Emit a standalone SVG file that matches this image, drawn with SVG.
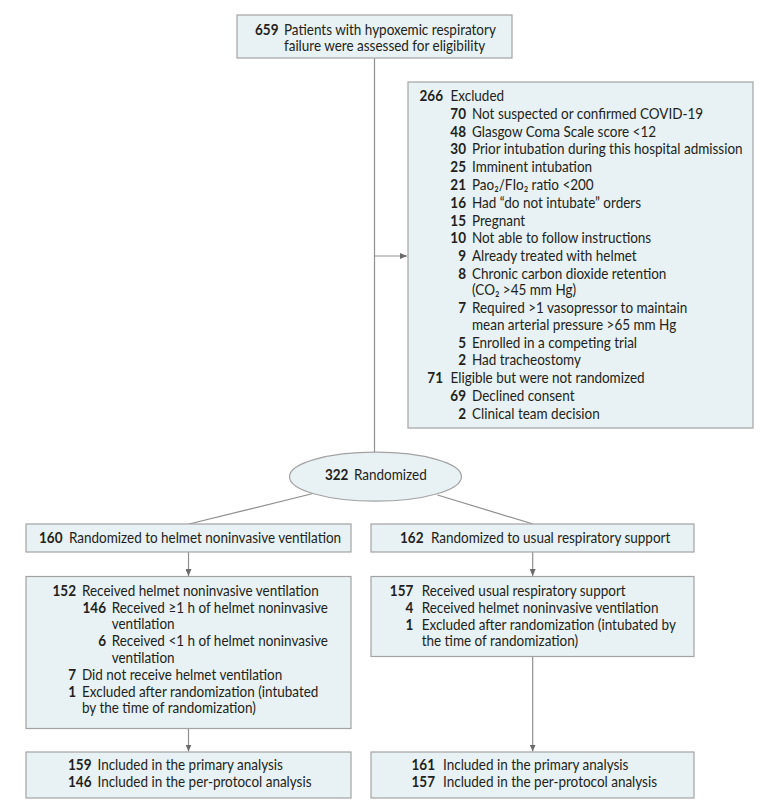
<svg xmlns="http://www.w3.org/2000/svg" width="780" height="811" viewBox="0 0 780 811">
<style>
.box{fill:#e8f1f3;stroke:#a3a3a3;stroke-width:1.2}
.ln{stroke:#8f8f8f;stroke-width:1.2;fill:none}
text{font-family:Lato,"Liberation Sans",sans-serif;font-size:15px;fill:#231f20}
.b{font-weight:bold}
.e{text-anchor:end}
</style>
<defs>
<marker id="ah" markerWidth="7" markerHeight="6" refX="7" refY="3" orient="auto" markerUnits="userSpaceOnUse">
<path d="M0,0 L7,3 L0,6 z" fill="#6b6b6b"/>
</marker>
</defs>
<rect width="780" height="811" fill="#ffffff"/>
<g id="connectors">
<line class="ln" x1="374.5" y1="58" x2="374.5" y2="452.5"/>
<line class="ln" x1="374.5" y1="256" x2="407" y2="256" marker-end="url(#ah)"/>
<line class="ln" x1="315" y1="493" x2="189" y2="524"/>
<line class="ln" x1="437.5" y1="495" x2="533" y2="524"/>
<line class="ln" x1="188.5" y1="552" x2="188.5" y2="576" marker-end="url(#ah)"/>
<line class="ln" x1="532.7" y1="552" x2="532.7" y2="576" marker-end="url(#ah)"/>
<line class="ln" x1="188.5" y1="728.5" x2="188.5" y2="751.5" marker-end="url(#ah)"/>
<line class="ln" x1="532.7" y1="656.5" x2="532.7" y2="751.5" marker-end="url(#ah)"/>
</g>
<g id="assessed">
<rect class="box" x="237" y="15" width="275" height="43"/>
<g transform="scale(0.9,1)">
<text x="283.33" y="35" class="b">659</text>
<text x="315.56" y="35">Patients with hypoxemic respiratory</text>
<text x="315.56" y="51.5">failure were assessed for eligibility</text>
</g>
</g>
<g id="excluded">
<rect class="box" x="408" y="82" width="345" height="346"/>
<g transform="scale(0.9,1)">
<text x="492.22" y="101" class="b e">266</text><text x="500.56" y="101">Excluded</text>
<text x="517.78" y="118.8" class="b e">70</text><text x="524.44" y="118.8">Not suspected or confirmed COVID-19</text>
<text x="517.78" y="136.6" class="b e">48</text><text x="524.44" y="136.6">Glasgow Coma Scale score &lt;12</text>
<text x="517.78" y="154.4" class="b e">30</text><text x="524.44" y="154.4">Prior intubation during this hospital admission</text>
<text x="517.78" y="172.2" class="b e">25</text><text x="524.44" y="172.2">Imminent intubation</text>
<text x="517.78" y="190" class="b e">21</text><text x="524.44" y="190">Pao₂/FIo₂ ratio &lt;200</text>
<text x="517.78" y="207.8" class="b e">16</text><text x="524.44" y="207.8">Had “do not intubate” orders</text>
<text x="517.78" y="225.6" class="b e">15</text><text x="524.44" y="225.6">Pregnant</text>
<text x="517.78" y="243.4" class="b e">10</text><text x="524.44" y="243.4">Not able to follow instructions</text>
<text x="517.78" y="261.2" class="b e">9</text><text x="524.44" y="261.2">Already treated with helmet</text>
<text x="517.78" y="279" class="b e">8</text><text x="524.44" y="279">Chronic carbon dioxide retention</text>
<text x="524.44" y="295.5">(CO₂ &gt;45 mm Hg)</text>
<text x="517.78" y="313.3" class="b e">7</text><text x="524.44" y="313.3">Required &gt;1 vasopressor to maintain</text>
<text x="524.44" y="329.8">mean arterial pressure &gt;65 mm Hg</text>
<text x="517.78" y="347.6" class="b e">5</text><text x="524.44" y="347.6">Enrolled in a competing trial</text>
<text x="517.78" y="365.4" class="b e">2</text><text x="524.44" y="365.4">Had tracheostomy</text>
<text x="492.22" y="383.2" class="b e">71</text><text x="500.56" y="383.2">Eligible but were not randomized</text>
<text x="517.78" y="401" class="b e">69</text><text x="524.44" y="401">Declined consent</text>
<text x="517.78" y="418.8" class="b e">2</text><text x="524.44" y="418.8">Clinical team decision</text>
</g>
</g>
<g id="randomized">
<ellipse cx="375.5" cy="476.7" rx="86" ry="24.5" fill="#e8f1f3" stroke="#a3a3a3" stroke-width="1.2"/>
<g transform="scale(0.9,1)">
<text x="361.11" y="480.5" class="b">322</text>
<text x="393.33" y="480.5">Randomized</text>
</g>
</g>
<g id="helmet-arm">
<rect class="box" x="26" y="524" width="325" height="28"/>
<g transform="scale(0.9,1)">
<text x="43.33" y="543.5" class="b">160</text>
<text x="76.67" y="543.5">Randomized to helmet noninvasive ventilation</text>
</g>
</g>
<g id="usual-arm">
<rect class="box" x="371" y="524" width="323" height="28"/>
<g transform="scale(0.9,1)">
<text x="444.44" y="543.5" class="b">162</text>
<text x="478.89" y="543.5">Randomized to usual respiratory support</text>
</g>
</g>
<g id="helmet-received">
<rect class="box" x="26" y="576.5" width="325" height="152"/>
<g transform="scale(0.9,1)">
<text x="84.44" y="596" class="b e">152</text><text x="91.11" y="596">Received helmet noninvasive ventilation</text>
<text x="117.78" y="613" class="b e">146</text><text x="124.11" y="613">Received ≥1 h of helmet noninvasive</text>
<text x="124.11" y="629.5">ventilation</text>
<text x="117.78" y="646.5" class="b e">6</text><text x="124.11" y="646.5">Received &lt;1 h of helmet noninvasive</text>
<text x="124.11" y="663">ventilation</text>
<text x="84.44" y="680" class="b e">7</text><text x="91.11" y="680">Did not receive helmet ventilation</text>
<text x="84.44" y="697" class="b e">1</text><text x="91.11" y="697">Excluded after randomization (intubated</text>
<text x="91.11" y="713.5">by the time of randomization)</text>
</g>
</g>
<g id="usual-received">
<rect class="box" x="371" y="576.5" width="323" height="80"/>
<g transform="scale(0.9,1)">
<text x="459.22" y="596" class="b e">157</text><text x="468.56" y="596">Received usual respiratory support</text>
<text x="459.22" y="613" class="b e">4</text><text x="468.56" y="613">Received helmet noninvasive ventilation</text>
<text x="459.22" y="630" class="b e">1</text><text x="468.56" y="630">Excluded after randomization (intubated by</text>
<text x="468.56" y="646.5">the time of randomization)</text>
</g>
</g>
<g id="helmet-analysis">
<rect class="box" x="26" y="752" width="325" height="46"/>
<g transform="scale(0.9,1)">
<text x="101.67" y="770" class="b e">159</text><text x="108.33" y="770">Included in the primary analysis</text>
<text x="101.67" y="787" class="b e">146</text><text x="108.33" y="787">Included in the per-protocol analysis</text>
</g>
</g>
<g id="usual-analysis">
<rect class="box" x="371" y="752" width="323" height="46"/>
<g transform="scale(0.9,1)">
<text x="483.33" y="770" class="b e">161</text><text x="492.22" y="770">Included in the primary analysis</text>
<text x="483.33" y="787" class="b e">157</text><text x="492.22" y="787">Included in the per-protocol analysis</text>
</g>
</g>
</svg>
